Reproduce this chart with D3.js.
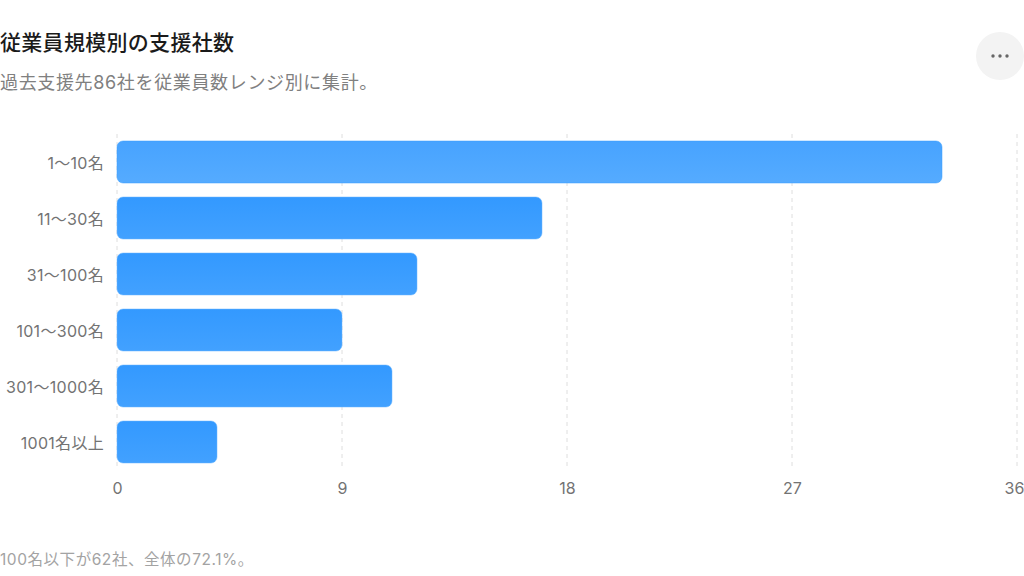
<!DOCTYPE html>
<html lang="ja">
<head>
<meta charset="utf-8">
<script src="https://cdn.jsdelivr.net/npm/d3@7"></script>
<style>
  html, body { margin: 0; background: #fff; }
  svg { display: block; }
  text { font-family: Inter, "Noto Sans CJK JP", sans-serif; }
</style>
</head>
<body>
<svg id="chart" width="1024" height="576"></svg>
<script>
const categories = ["1〜10名", "11〜30名", "31〜100名", "101〜300名", "301〜1000名", "1001名以上"];
const values = [33, 17, 12, 9, 11, 4];
const xTicks = [0, 9, 18, 27, 36];
const titleText = "従業員規模別の支援社数";
const subtitleText = "過去支援先86社を従業員数レンジ別に集計。";
const footnoteText = "100名以下が62社、全体の72.1%。";
const highlighted = "1〜10名";

const svg = d3.select("#chart");

const x = d3.scaleLinear().domain([0, 36]).range([117, 1017]);
const y = d3.scaleBand().domain(categories).range([134, 470])
  .paddingInner(0.25).paddingOuter(0.125);

// bar fills, the first row is in hover state
const defs = svg.append("defs");
const addGrad = (id, top, bottom) => {
  const g = defs.append("linearGradient").attr("id", id)
    .attr("x1", 0).attr("y1", 0).attr("x2", 0).attr("y2", 1);
  g.append("stop").attr("offset", "0%").attr("stop-color", top);
  g.append("stop").attr("offset", "100%").attr("stop-color", bottom);
};
addGrad("barFill", "#3399ff", "#42a1ff");
addGrad("barFillHi", "#47a3ff", "#55abff");

// titles
svg.append("text").attr("x", 0).attr("y", 50)
  .attr("font-size", 21).attr("font-weight", 500).attr("fill", "#1a1a1a")
  .attr("letter-spacing", 0.3)
  .text(titleText);
svg.append("text").attr("x", 0).attr("y", 89)
  .attr("font-size", 18).attr("fill", "#808080")
  .attr("letter-spacing", 0.65)
  .text(subtitleText);
svg.append("text").attr("x", 0).attr("y", 565)
  .attr("font-size", 15.5).attr("fill", "#a3a3a3")
  .attr("letter-spacing", 0.55)
  .text(footnoteText);

// menu button
svg.append("circle").attr("cx", 1000).attr("cy", 56).attr("r", 24).attr("fill", "#f3f3f3");
svg.selectAll("circle.dot").data([-7, 0, 7]).join("circle")
  .attr("class", "dot")
  .attr("cx", d => 1000 + d).attr("cy", 56).attr("r", 1.7).attr("fill", "#666");

// grid
svg.append("g").selectAll("line").data(xTicks).join("line")
  .attr("x1", d => x(d)).attr("x2", d => x(d))
  .attr("y1", 134).attr("y2", 470)
  .attr("stroke", "#dedede").attr("stroke-width", 1).attr("stroke-dasharray", "4 4");

// bars
svg.append("g").selectAll("rect").data(values).join("rect")
  .attr("x", x(0))
  .attr("y", (d, i) => y(categories[i]))
  .attr("width", d => x(d) - x(0))
  .attr("height", y.bandwidth())
  .attr("rx", 6)
  .attr("stroke", (d, i) => categories[i] === highlighted ? "#3b9eff" : "#6db6ff")
  .attr("stroke-width", 0.5)
  .attr("fill", (d, i) => categories[i] === highlighted ? "url(#barFillHi)" : "url(#barFill)");

// axes
const xAxis = svg.append("g").attr("transform", "translate(0,470)")
  .call(d3.axisBottom(x).tickValues(xTicks).tickSize(0).tickPadding(13));
const yAxis = svg.append("g").attr("transform", "translate(117,0)")
  .call(d3.axisLeft(y).tickSize(0).tickPadding(13));
xAxis.select(".domain").remove();
yAxis.select(".domain").remove();
svg.selectAll(".tick text")
  .attr("font-family", 'Inter, "Noto Sans CJK JP", sans-serif')
  .attr("font-size", 16).attr("fill", "#737373");
yAxis.selectAll(".tick text").attr("letter-spacing", 0.3).attr("dy", "0.45em");
// last tick label has to stay inside the page
xAxis.selectAll(".tick text").filter(d => d === 36).attr("dx", -3);
</script>
</body>
</html>
